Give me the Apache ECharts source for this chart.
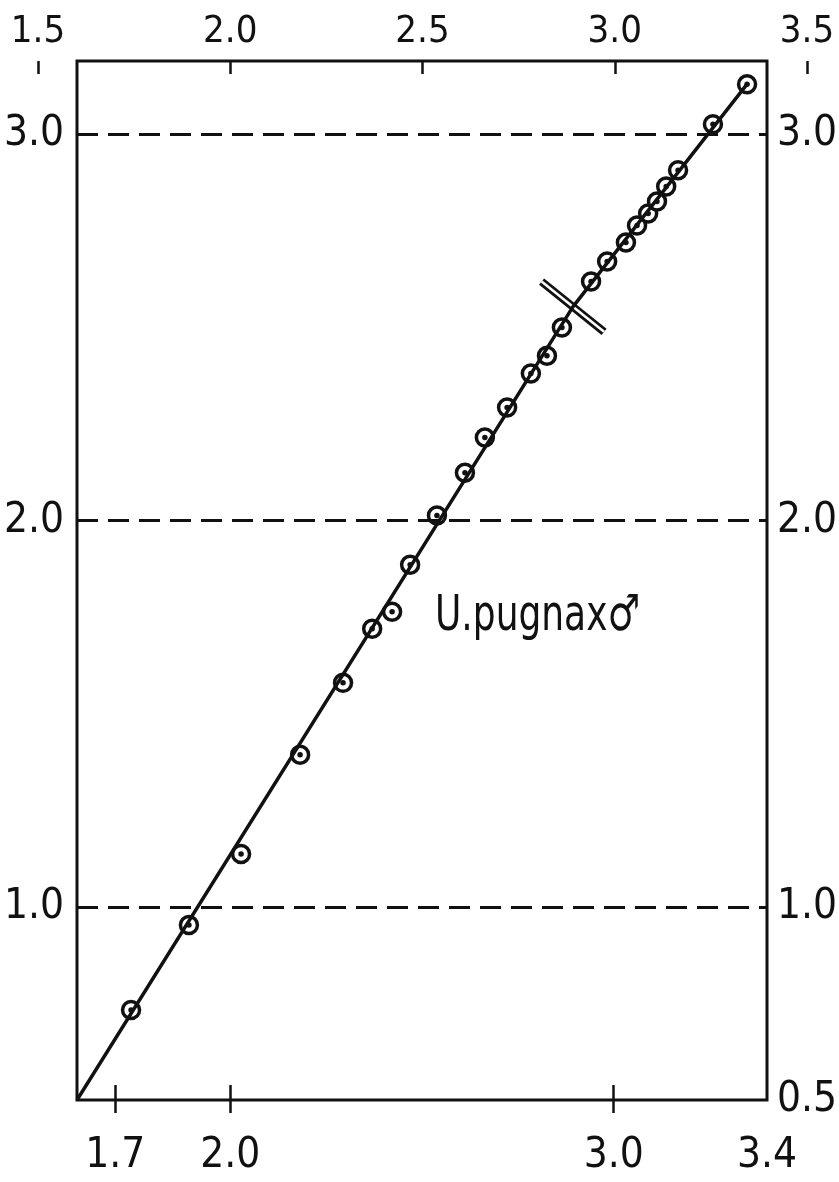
<!DOCTYPE html>
<html lang="en">
<head>
    <meta charset="UTF-8">
    <title>U.pugnax</title>
    <script src="https://cdn.jsdelivr.net/npm/echarts@6/dist/echarts.min.js"></script>
</head>
<style>
    *{
        margin: 0;
        padding: 0;
    }
    html , body{
        overflow: hidden;
        height: 100%;
        width: 100%;
        background: #fff;
    }
    .contain{
        width: 839px;
        height: 1182px;
    }
</style>
<body>
<div class="contain"></div>
<script>
    // measured points (bottom axis value, left axis value)
    const xValues = [1.741, 1.892, 2.028, 2.182, 2.294, 2.370, 2.422, 2.469, 2.539, 2.612,
                     2.664, 2.722, 2.784, 2.826, 2.865, 2.941, 2.983, 3.032, 3.061, 3.090,
                     3.113, 3.137, 3.168, 3.259, 3.348];
    const yValues = [0.733, 0.953, 1.137, 1.394, 1.580, 1.720, 1.764, 1.886, 2.013, 2.124,
                     2.215, 2.293, 2.381, 2.427, 2.500, 2.619, 2.671, 2.720, 2.764, 2.795,
                     2.826, 2.865, 2.907, 3.026, 3.130];

    // fitted line, broken into two segments at the marked point
    const fitLine = [[1.6, 0.5], [2.894, 2.554], [3.348, 3.130]];
    const breakMark = [[2.812, 2.619], [2.975, 2.489]];

    const bottomLabels = [1.7, 2.0, 3.0, 3.4];
    const bottomTicks = [1.7, 2.0, 3.0];
    const topTicks = [1.5, 2.0, 2.5, 3.0, 3.5];
    const leftLabels = [1.0, 2.0, 3.0];
    const rightLabels = [0.5, 1.0, 2.0, 3.0];
    const guideLines = [1.0, 2.0, 3.0];
    const speciesLabel = 'U.pugnax♂';

    const font = "'Liberation Sans Narrow', 'DejaVu Sans Condensed', 'Roboto Condensed', sans-serif";
    const ink = '#111';
    const fmt = v => Number(v).toFixed(1);

    const points = xValues.map((x, i) => [x, yValues[i]]);

    let chart = echarts.init(document.querySelector('.contain'));

    let option = {
        backgroundColor: '#fff',
        animation: false,
        grid: [
            {left: 77, right: 72, top: 61, bottom: 82, outerBoundsMode: 'none', containLabel: false,
                show: true, borderColor: ink, borderWidth: 3},
            {left: 38, right: 32, top: 61, bottom: 82, outerBoundsMode: 'none', containLabel: false}
        ],
        xAxis: [
            {
                gridIndex: 0, type: 'value', position: 'bottom', min: 1.6, max: 3.4,
                axisLine: {show: false},
                splitLine: {show: false},
                axisTick: {show: true, inside: true, length: 15, customValues: bottomTicks,
                    lineStyle: {color: ink, width: 2.5}},
                axisLabel: {customValues: bottomLabels, formatter: fmt, margin: 35,
                    color: ink, fontSize: 42, fontFamily: font}
            },
            {
                gridIndex: 0, type: 'value', position: 'bottom', min: 1.6, max: 3.4,
                axisLine: {show: false},
                splitLine: {show: false},
                axisTick: {show: true, inside: false, length: 13, customValues: bottomTicks,
                    lineStyle: {color: ink, width: 2.5}},
                axisLabel: {show: false}
            },
            {
                gridIndex: 1, type: 'value', position: 'top', min: 1.5, max: 3.5,
                axisLine: {show: false},
                splitLine: {show: false},
                axisTick: {show: true, inside: true, length: 13, customValues: topTicks,
                    lineStyle: {color: ink, width: 2.5}},
                axisLabel: {customValues: topTicks, formatter: fmt, margin: 10,
                    color: ink, fontSize: 38, fontFamily: font}
            }
        ],
        yAxis: [
            {
                gridIndex: 0, type: 'value', position: 'left', min: 0.5, max: 3.19,
                axisLine: {show: false},
                axisTick: {show: false},
                splitLine: {show: false},
                axisLabel: {customValues: leftLabels, formatter: fmt, margin: 13,
                    color: ink, fontSize: 42, fontFamily: font}
            },
            {
                gridIndex: 0, type: 'value', position: 'right', min: 0.5, max: 3.19,
                axisLine: {show: false},
                axisTick: {show: false},
                splitLine: {show: false},
                axisLabel: {customValues: rightLabels, formatter: fmt, margin: 10,
                    color: ink, fontSize: 42, fontFamily: font}
            },
            {
                gridIndex: 1, type: 'value', min: 0.5, max: 3.19, show: false
            }
        ],
        graphic: [
            {
                type: 'text', x: 435, y: 592, scaleX: 0.8, silent: true,
                style: {text: speciesLabel, fill: ink, fontSize: 50, fontFamily: font}
            }
        ],
        series: [
            {
                type: 'line', data: breakMark, symbol: 'none', silent: true,
                lineStyle: {color: ink, width: 8}
            },
            {
                type: 'line', data: breakMark, symbol: 'none', silent: true,
                lineStyle: {color: '#fff', width: 2.5}
            },
            {
                type: 'line', data: fitLine, symbol: 'none', silent: true,
                lineStyle: {color: ink, width: 3.5},
                markLine: {
                    silent: true, symbol: 'none', label: {show: false},
                    lineStyle: {color: ink, width: 3, type: [21, 10]},
                    data: guideLines.map(v => ({yAxis: v}))
                }
            },
            {
                type: 'scatter', data: points, symbol: 'circle', symbolSize: 17,
                itemStyle: {color: '#fff', borderColor: ink, borderWidth: 3.5, opacity: 1}
            },
            {
                type: 'scatter', data: points, symbol: 'circle', symbolSize: 5.5,
                itemStyle: {color: ink, opacity: 1}
            }
        ]
    };

    chart.setOption(option);
</script>
</body>
</html>
